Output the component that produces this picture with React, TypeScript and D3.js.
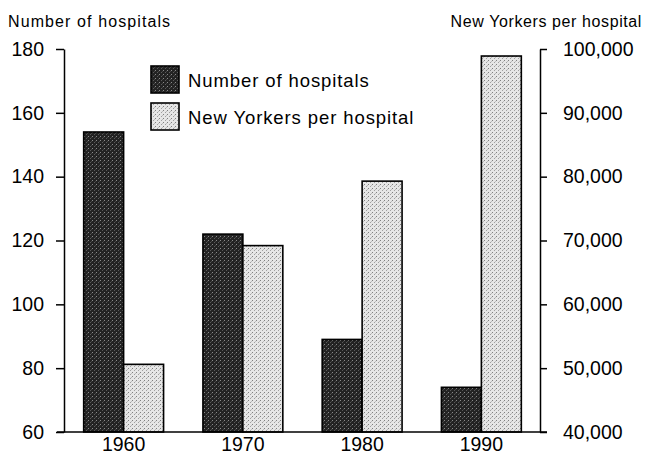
import { useEffect, useRef } from "react";
import * as d3 from "d3";

const years = ["1960", "1970", "1980", "1990"];
const hospitals = [154, 122, 89, 74];
const perHospital = [50600, 69200, 79300, 98900];
const leftTicks = [60, 80, 100, 120, 140, 160, 180];
const rightTicks = [40000, 50000, 60000, 70000, 80000, 90000, 100000];
const seriesNames = ["Number of hospitals", "New Yorkers per hospital"];

export default function App() {
  const svgRef = useRef<SVGSVGElement>(null);

  useEffect(() => {
    const svg = d3.select(svgRef.current);
    svg.selectAll("*").remove();
    const width = 645, height = 456;
    const font = "'Liberation Sans', Arial, sans-serif";
    svg.attr("width", width).attr("height", height).style("font-family", font);

    // stipple textures
    const defs = svg.append("defs");
    const dark = defs.append("pattern").attr("id", "dark").attr("patternUnits", "userSpaceOnUse")
      .attr("width", 4).attr("height", 4);
    dark.append("rect").attr("width", 4).attr("height", 4).attr("fill", "#232323");
    dark.append("rect").attr("x", 0).attr("y", 0).attr("width", 1).attr("height", 1).attr("fill", "#8a8a8a");
    dark.append("rect").attr("x", 2).attr("y", 2).attr("width", 1).attr("height", 1).attr("fill", "#5a5a5a");
    dark.append("rect").attr("x", 3).attr("y", 1).attr("width", 1).attr("height", 1).attr("fill", "#444");
    const light = defs.append("pattern").attr("id", "light").attr("patternUnits", "userSpaceOnUse")
      .attr("width", 4).attr("height", 4);
    light.append("rect").attr("width", 4).attr("height", 4).attr("fill", "#e6e6e6");
    light.append("rect").attr("x", 0).attr("y", 0).attr("width", 1).attr("height", 1).attr("fill", "#808080");
    light.append("rect").attr("x", 2).attr("y", 2).attr("width", 1).attr("height", 1).attr("fill", "#a0a0a0");
    light.append("rect").attr("x", 3).attr("y", 1).attr("width", 1).attr("height", 1).attr("fill", "#bdbdbd");
    const fills = ["url(#dark)", "url(#light)"];

    const left = 64, right = 540, top = 49, bottom = 432;
    const x0 = d3.scaleBand().domain(years).range([left, right + 1]).paddingInner(0.33).paddingOuter(0.165);
    const x1 = d3.scaleBand().domain(seriesNames).range([0, x0.bandwidth()]);
    const yL = d3.scaleLinear().domain([60, 180]).range([bottom, top]);
    const yR = d3.scaleLinear().domain([40000, 100000]).range([bottom, top]);

    const rows = years.map((yr, i) => ({ yr, vals: [hospitals[i], perHospital[i]] }));
    const g = svg.append("g");
    rows.forEach(r => {
      r.vals.forEach((v, j) => {
        const ys = j === 0 ? yL(v) : yR(v);
        g.append("rect")
          .attr("x", x0(r.yr)! + x1(seriesNames[j])!)
          .attr("y", ys)
          .attr("width", x1.bandwidth())
          .attr("height", bottom - ys)
          .attr("fill", fills[j])
          .attr("stroke", "#000").attr("stroke-width", 1.6);
      });
    });

    // axes
    const axL = svg.append("g").attr("transform", `translate(${left},0)`)
      .call(d3.axisLeft(yL).tickValues(leftTicks).tickSize(8).tickSizeOuter(0).tickPadding(12).tickFormat(d3.format("d")));
    const axR = svg.append("g").attr("transform", `translate(${right},0)`)
      .call(d3.axisRight(yR).tickValues(rightTicks).tickSize(7).tickSizeOuter(0).tickPadding(16).tickFormat(d3.format(",")));
    [axL, axR].forEach(a => {
      a.select(".domain").attr("stroke", "#000").attr("stroke-width", 1.5);
      a.selectAll("line").attr("stroke-width", 1.5);
      a.selectAll("text").style("font-size", "19.5px").style("font-family", font).attr("fill", "#000");
    });

    svg.append("line").attr("x1", left - 7).attr("x2", right + 7).attr("y1", bottom).attr("y2", bottom)
      .attr("stroke", "#000").attr("stroke-width", 1.5);

    svg.append("g").selectAll("text").data(years).enter().append("text")
      .attr("x", d => x0(d)! + x0.bandwidth() / 2).attr("y", 451)
      .attr("text-anchor", "middle").style("font-size", "19.5px").text(d => d);

    svg.append("text").attr("x", 8).attr("y", 27).style("font-size", "16px").style("letter-spacing", "1.1px")
      .text("Number of hospitals");
    svg.append("text").attr("x", 642).attr("y", 27).attr("text-anchor", "end").style("font-size", "16px")
      .style("letter-spacing", "0.6px").text("New Yorkers per hospital");

    // legend
    const lg = svg.append("g").attr("transform", "translate(151,66)");
    seriesNames.forEach((name, i) => {
      lg.append("rect").attr("x", 0).attr("y", i * 37).attr("width", 28).attr("height", 27)
        .attr("fill", fills[i]).attr("stroke", "#000").attr("stroke-width", 1.6);
      lg.append("text").attr("x", 37).attr("y", i * 37 + 21).style("font-size", "18.5px")
        .style("letter-spacing", "0.9px").text(name);
    });
  }, []);

  return <svg ref={svgRef} style={{ position: "absolute", left: 0, top: 0, background: "#fff" }} />;
}
